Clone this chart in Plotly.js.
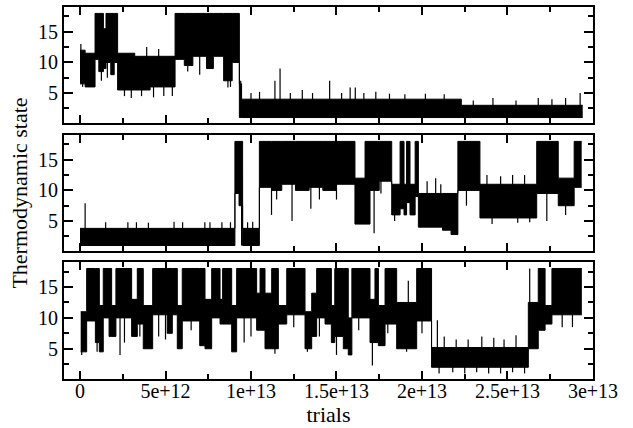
<!DOCTYPE html>
<html><head><meta charset="utf-8">
<script src="https://cdn.plot.ly/plotly-3.0.1.min.js"></script>
<style>html,body{margin:0;padding:0;background:#fff}</style>
</head><body><div id="chart" style="width:633px;height:428px"></div>
<script>
// x values are in units of 1e12 trials
const SCALE = 1e12;

// x tick labels
const xTickVals = [0, 5e12, 1e13, 1.5e13, 2e13, 2.5e13, 3e13];
const xTickText = ['0', '5e+12', '1e+13', '1.5e+13', '2e+13', '2.5e+13', '3e+13'];
const xMinorVals = [2.5e12, 7.5e12, 1.25e13, 1.75e13, 2.25e13, 2.75e13];
const yTickVals = [5, 10, 15];
const yTickText = ['5', '10', '15'];
const yMinorVals = [2.5, 7.5, 12.5, 17.5];

// ---- Top panel: segment starts, upper / lower edge of the dense band ----
const p1SegStart = [0.0, 0.3, 0.88, 1.1, 1.37, 1.52, 1.8, 2.0, 2.2, 3.2, 4.1, 5.56, 6.1, 6.6, 7.4, 7.8, 8.4, 8.9, 9.32, 9.45, 22.3];
const p1Hi = [12, 11.5, 18, 18, 15.5, 18, 18, 18, 11.5, 11, 11, 18, 18, 18, 18, 18, 18, 18, 6.5, 4, 3];
const p1Lo = [6.5, 6, 10.5, 8.5, 9, 10, 8, 10, 5.5, 5.5, 6, 10.5, 9.5, 11, 9, 11, 7, 10, 1, 1, 1];
const p1End = 29.4;
const p1SpikeX = [0.05, 0.15, 0.6, 0.8, 1.25, 1.6, 2.6, 3.0, 3.6, 3.9, 4.3, 4.6, 4.9, 5.4, 6.3, 7.0, 8.65, 8.8, 9.4, 10.0, 10.5, 11.4, 11.7, 12.3, 13.0, 13.6, 14.6, 15.3, 15.8, 16.1, 16.6, 17.3, 18.1, 19.0, 20.2, 21.3, 23.0, 24.15, 25.5, 26.8, 27.6, 28.4, 29.25];
const p1SpikeY = [13, 6, 6, 6, 7, 7.5, 4.5, 4.2, 4.5, 12.5, 4.3, 12.2, 4.5, 4.5, 8.5, 8, 5.9, 6, 7, 5, 5.2, 7, 9, 5, 5.5, 5, 7, 5, 5.9, 5.9, 5, 5.2, 4.9, 4.8, 4.9, 4.8, 3.8, 4.2, 3.8, 4.2, 4.0, 4.2, 5];

// ---- Middle panel ----
const p2SegStart = [0, 9.06, 9.3, 9.51, 10.49, 11.2, 11.8, 12.6, 13.4, 14.2, 15.0, 16.08, 16.67, 16.96, 17.5, 18.23, 18.72, 18.95, 19.1, 19.3, 19.6, 19.79, 21.2, 21.7, 22.1, 23.39, 26.71, 27.97, 28.9];
const p2Hi = [3.8, 18, 18, 3.8, 18, 18, 18, 18, 18, 18, 18, 12, 18, 18, 18, 11, 18, 11, 18, 11, 18, 9.5, 9.5, 9.5, 18, 11, 18, 12, 18];
const p2Lo = [1, 9.5, 7.5, 1, 10.5, 10, 11, 10, 10.5, 10, 11, 4.5, 4.5, 10, 11.5, 6, 7, 6, 8, 6, 9, 4, 3.5, 2.8, 10, 5.5, 9.5, 7.5, 10.5];
const p2End = 29.34;
const p2SpikeX = [0.3, 1.5, 2.8, 3.3, 4.0, 5.5, 6.0, 7.3, 7.6, 8.3, 8.8, 9.45, 9.8, 10.1, 11.2, 11.5, 12.4, 13.5, 14.0, 15.0, 17.2, 17.6, 18.4, 20.3, 20.8, 21.1, 22.6, 23.8, 24.1, 24.6, 25.3, 25.6, 26.0, 26.3, 27.3, 28.4];
const p2SpikeY = [7.9, 4.8, 4.8, 4.8, 4.7, 4.9, 4.8, 4.8, 4.8, 4.8, 4.8, 1, 4.8, 4.9, 6, 8.5, 5, 7, 8.5, 8.5, 3, 9.5, 5, 11.5, 12, 11, 7.5, 12.5, 4.5, 12.3, 12.5, 4.7, 12.5, 4.8, 5, 6];

// ---- Bottom panel ----
const p3SegStart = [0.04, 0.39, 0.9, 1.13, 1.36, 1.7, 1.85, 2.1, 3.02, 3.35, 3.7, 4.25, 5.1, 5.4, 5.69, 5.98, 7.0, 7.31, 7.7, 8.19, 8.34, 8.87, 9.16, 10.33, 10.53, 10.82, 11.21, 11.6, 12.09, 13.16, 13.55, 13.84, 14.33, 14.7, 14.9, 15.4, 15.69, 15.9, 16.96, 17.25, 17.45, 17.84, 18.52, 19.69, 20.56, 26.22, 26.8, 27.2, 27.6];
const p3Hi = [11, 18, 18, 12, 18, 18, 12, 18, 13, 18, 12, 18, 18, 18, 12, 18, 18, 13, 18, 13, 18, 12, 18, 14, 18, 14, 18, 12, 18, 11, 14, 18, 18, 12, 18, 18, 10, 18, 13, 18, 12, 18, 12.5, 18, 5.2, 12.5, 18, 12, 18];
const p3Lo = [4.5, 9.5, 6, 4.5, 10, 7, 7, 10, 7, 9, 5, 10.5, 7.5, 10.5, 5, 9.5, 5.5, 5, 10, 9, 9, 4.5, 10, 8, 8, 5, 5, 9, 10.5, 5, 7, 10, 9, 6, 7, 5, 4, 10, 6, 6, 5.5, 9, 5, 9.5, 2, 5, 8, 9, 10.5];
const p3End = 29.35;
const p3SpikeX = [0.1, 1.0, 2.34, 2.6, 3.5, 4.6, 5.0, 6.5, 9.6, 10.0, 11.4, 12.5, 13.3, 14.0, 15.0, 16.3, 17.1, 18.0, 19.1, 19.2, 20.0, 20.9, 21.3, 22.0, 22.7, 23.5, 24.2, 24.8, 25.5, 21.0, 21.8, 22.5, 23.2, 23.9, 24.6, 25.3, 26.0, 26.3, 28.2, 28.8];
const p3SpikeY = [4, 4.5, 4, 6, 7, 7, 6.5, 8, 6, 7, 4.2, 8.5, 4.5, 7, 4, 8, 2.3, 7.5, 4.5, 16, 7.5, 9.6, 7, 6.5, 6.5, 7, 6.8, 6.5, 7.2, 1, 1.2, 1, 1.2, 1, 1, 1.2, 1, 18, 8.5, 8.5];

function bandTraces(starts, hi, lo, end, xa, ya) {
  const xs = starts.concat([end]).map(v => v * SCALE);
  const his = hi.concat([hi[hi.length - 1]]);
  const los = lo.concat([lo[lo.length - 1]]);
  return [
    {x: xs, y: los, xaxis: xa, yaxis: ya, type: 'scatter', mode: 'lines',
     line: {shape: 'hv', color: '#000', width: 1}, hoverinfo: 'skip', showlegend: false},
    {x: xs, y: his, xaxis: xa, yaxis: ya, type: 'scatter', mode: 'lines', fill: 'tonexty', fillcolor: '#000',
     line: {shape: 'hv', color: '#000', width: 1}, hoverinfo: 'skip', showlegend: false}
  ];
}
function spikeTrace(sx, sy, starts, hi, lo, xa, ya) {
  const x = [], y = [];
  sx.forEach((v, i) => {
    let k = 0;
    for (let j = 0; j < starts.length; j++) if (starts[j] <= v) k = j;
    const mid = (hi[k] + lo[k]) / 2;
    x.push(v * SCALE, v * SCALE, null);
    y.push(sy[i], mid, null);
  });
  return {x, y, xaxis: xa, yaxis: ya, type: 'scatter', mode: 'lines',
          line: {color: '#000', width: 1.2}, hoverinfo: 'skip', showlegend: false};
}

const data = []
  .concat(bandTraces(p3SegStart, p3Hi, p3Lo, p3End, 'x', 'y'))
  .concat(bandTraces(p2SegStart, p2Hi, p2Lo, p2End, 'x2', 'y2'))
  .concat(bandTraces(p1SegStart, p1Hi, p1Lo, p1End, 'x3', 'y3'));
data.push(spikeTrace(p3SpikeX, p3SpikeY, p3SegStart, p3Hi, p3Lo, 'x', 'y'));
data.push(spikeTrace(p2SpikeX, p2SpikeY, p2SegStart, p2Hi, p2Lo, 'x2', 'y2'));
data.push(spikeTrace(p1SpikeX, p1SpikeY, p1SegStart, p1Hi, p1Lo, 'x3', 'y3'));

const FONT = 'Liberation Serif';
const xCommon = {
  range: [-0.936e12, 3.0002e13], showgrid: false, zeroline: false,
  showline: true, linecolor: '#000', linewidth: 2, mirror: 'ticks',
  ticks: 'inside', ticklen: 8, tickwidth: 2, tickcolor: '#000',
  tickmode: 'array', tickvals: xTickVals, ticktext: xTickText,
  minor: {tickmode: 'array', tickvals: xMinorVals, ticks: 'inside', ticklen: 5, tickwidth: 2, tickcolor: '#000'},
  tickfont: {family: FONT, size: 20, color: '#000'},
  ticklabelstandoff: -7
};
const yCommon = {
  range: [0.1, 19.05], showgrid: false, zeroline: false,
  showline: true, linecolor: '#000', linewidth: 2, mirror: 'ticks',
  ticks: 'inside', ticklen: 9, tickwidth: 2, tickcolor: '#000',
  tickmode: 'array', tickvals: yTickVals, ticktext: yTickText,
  minor: {tickmode: 'array', tickvals: yMinorVals, ticks: 'inside', ticklen: 5, tickwidth: 2, tickcolor: '#000'},
  tickfont: {family: FONT, size: 20, color: '#000'}
};

const layout = {
  width: 633, height: 428,
  margin: {l: 64, r: 40, t: 7, b: 49},
  paper_bgcolor: '#fff', plot_bgcolor: '#fff',
  font: {family: FONT, color: '#000'},
  showlegend: false,
  xaxis: Object.assign({}, xCommon, {anchor: 'y', domain: [0, 1],
    title: {text: 'trials', font: {family: FONT, size: 22, color: '#000'}, standoff: 0}}),
  xaxis2: Object.assign({}, xCommon, {anchor: 'y2', domain: [0, 1], showticklabels: false}),
  xaxis3: Object.assign({}, xCommon, {anchor: 'y3', domain: [0, 1], showticklabels: false}),
  yaxis: Object.assign({}, yCommon, {anchor: 'x', domain: [0, 0.3145]}),
  yaxis2: Object.assign({}, yCommon, {anchor: 'x2', domain: [0.344, 0.656],
    title: {text: 'Thermodynamic state', font: {family: FONT, size: 22, color: '#000'}, standoff: 4}}),
  yaxis3: Object.assign({}, yCommon, {anchor: 'x3', domain: [0.688, 1]})
};

Plotly.newPlot('chart', data, layout, {displayModeBar: false, staticPlot: true});
</script>
</body></html>
